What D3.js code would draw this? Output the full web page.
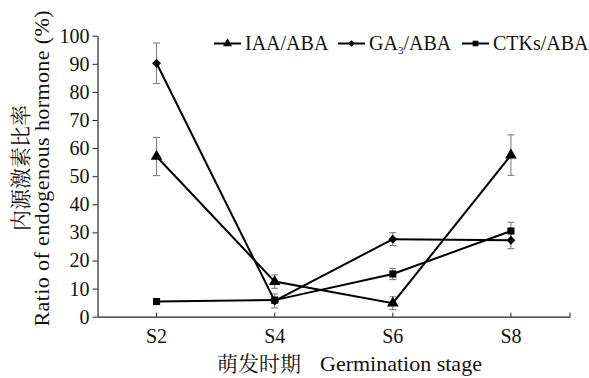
<!DOCTYPE html>
<html>
<head>
<meta charset="utf-8">
<script src="https://cdn.jsdelivr.net/npm/d3@7"></script>
</head>
<body style="margin:0;padding:0;background:#fff">
<svg id="chart" width="589" height="378" style="display:block"></svg>
<script>
// Germination stages
const stages = ["S2", "S4", "S6", "S8"];
// Hormone ratio means (%) and standard errors
const iaaAba = [57, 12.5, 4.8, 57.5];
const iaaAbaErr = [6.8, 2.4, 2.3, 7.2];
const ga3Aba = [90.2, 5.6, 27.6, 27.2];
const ga3AbaErr = [7.2, 2.5, 2.3, 3];
const ctksAba = [5.4, 5.9, 15.2, 30.5];
const ctksAbaErr = [0.6, 1, 2, 3.1];
const yTicks = d3.range(0, 101, 10);

const SERIF = '"Liberation Serif"';
const CJK = '"Noto Serif CJK SC"';

const series = [
  { name: "IAA/ABA", values: iaaAba, err: iaaAbaErr, marker: "triangle" },
  { name: "GA3/ABA", values: ga3Aba, err: ga3AbaErr, marker: "diamond" },
  { name: "CTKs/ABA", values: ctksAba, err: ctksAbaErr, marker: "square" }
];

const svg = d3.select("#chart");
const plot = { left: 97.5, right: 570, top: 35.7, bottom: 316.7 };

const x = d3.scaleBand().domain(stages).range([plot.left, plot.right]);
const xc = d => x(d) + x.bandwidth() / 2;
const y = d3.scaleLinear().domain([0, 100]).range([plot.bottom, plot.top]);

// Y axis
const yAxis = svg.append("g")
  .attr("transform", `translate(${plot.left},0)`)
  .call(d3.axisLeft(y).tickValues(yTicks).tickSize(5).tickSizeOuter(0).tickPadding(3))
  .attr("font-family", null).attr("font-size", null);
yAxis.select(".domain").attr("stroke", "#222").attr("stroke-width", 1.2);
yAxis.selectAll(".tick line").attr("stroke", "#222");
yAxis.selectAll(".tick text")
  .style("font-family", SERIF).style("font-size", "20px").style("fill", "#111");

// X axis: baseline with small upward ticks at category centres and at the end
const xAxis = svg.append("g")
  .attr("transform", `translate(0,${plot.bottom})`)
  .call(d3.axisBottom(x).tickSize(0).tickPadding(12))
  .attr("font-family", null).attr("font-size", null);
xAxis.select(".domain").attr("stroke", "#222").attr("stroke-width", 1.2);
xAxis.selectAll(".tick text")
  .style("font-family", SERIF).style("font-size", "20px").style("fill", "#111");
svg.append("g").selectAll("line")
  .data(stages.map(xc).concat([plot.right]))
  .join("line")
  .attr("x1", d => d).attr("x2", d => d)
  .attr("y1", plot.bottom).attr("y2", plot.bottom - 4)
  .attr("stroke", "#222").attr("stroke-width", 1);

// Markers
const symbolFor = {
  triangle: d3.symbol().type(d3.symbolTriangle),
  diamond: d3.symbol().type(d3.symbolDiamond2),
  square: d3.symbol().type(d3.symbolSquare2)
};
const markerSize = { triangle: 58, diamond: 50, square: 64 };
const legendSize = { triangle: 36, diamond: 26, square: 40 };

const line = d3.line().x((d, i) => xc(stages[i])).y(d => y(d));

// Error bars
series.forEach(s => {
  const g = svg.append("g").attr("stroke", "#777").attr("stroke-width", 1);
  s.values.forEach((v, i) => {
    const cx = xc(stages[i]);
    const top = y(v + s.err[i]), bot = y(v - s.err[i]);
    g.append("line").attr("x1", cx).attr("x2", cx).attr("y1", top).attr("y2", bot);
    g.append("line").attr("x1", cx - 3.5).attr("x2", cx + 3.5).attr("y1", top).attr("y2", top);
    g.append("line").attr("x1", cx - 3.5).attr("x2", cx + 3.5).attr("y1", bot).attr("y2", bot);
  });
});

// Lines and markers
series.forEach(s => {
  svg.append("path")
    .datum(s.values)
    .attr("d", line)
    .attr("fill", "none").attr("stroke", "#000").attr("stroke-width", 2);
  svg.append("g").selectAll("path")
    .data(s.values)
    .join("path")
    .attr("d", symbolFor[s.marker].size(markerSize[s.marker]))
    .attr("transform", (d, i) => `translate(${xc(stages[i])},${y(d)})`)
    .attr("fill", "#000");
});

// Legend
const legendX = [214, 338, 462];
const ly = 43.5;
series.forEach((s, k) => {
  const lx = legendX[k];
  const g = svg.append("g");
  g.append("line").attr("x1", lx).attr("x2", lx + 27).attr("y1", ly).attr("y2", ly)
    .attr("stroke", "#000").attr("stroke-width", 2);
  g.append("path")
    .attr("d", symbolFor[s.marker].size(legendSize[s.marker]))
    .attr("transform", `translate(${lx + 13.5},${ly})`)
    .attr("fill", "#000");
  const t = g.append("text").attr("x", lx + 31).attr("y", ly + 6.5)
    .style("font-family", SERIF).style("font-size", "20px").style("fill", "#111");
  if (s.name === "GA3/ABA") {
    t.append("tspan").text("GA");
    t.append("tspan").text("3").style("font-size", "11px").attr("dy", 4);
    t.append("tspan").text("/ABA").attr("dy", -4);
  } else {
    t.text(s.name);
  }
});

// Y axis title (two lines)
svg.append("text")
  .attr("transform", "translate(28,168) rotate(-90)")
  .attr("text-anchor", "middle")
  .style("font-family", CJK).style("font-size", "21px").style("fill", "#111")
  .text("内源激素比率");
svg.append("text")
  .attr("transform", "translate(49,168.5) rotate(-90)")
  .attr("text-anchor", "middle")
  .attr("textLength", 316)
  .attr("lengthAdjust", "spacing")
  .style("font-family", SERIF).style("font-size", "22px").style("fill", "#111")
  .text("Ratio of endogenous hormone (%)");

// X axis title
const xt = svg.append("text").attr("y", 371)
  .style("font-family", SERIF).style("font-size", "22px").style("fill", "#111");
xt.append("tspan").attr("x", 217).style("font-family", CJK).style("font-size", "21px").text("萌发时期");
xt.append("tspan").attr("x", 320).text("Germination stage");
</script>
</body>
</html>
